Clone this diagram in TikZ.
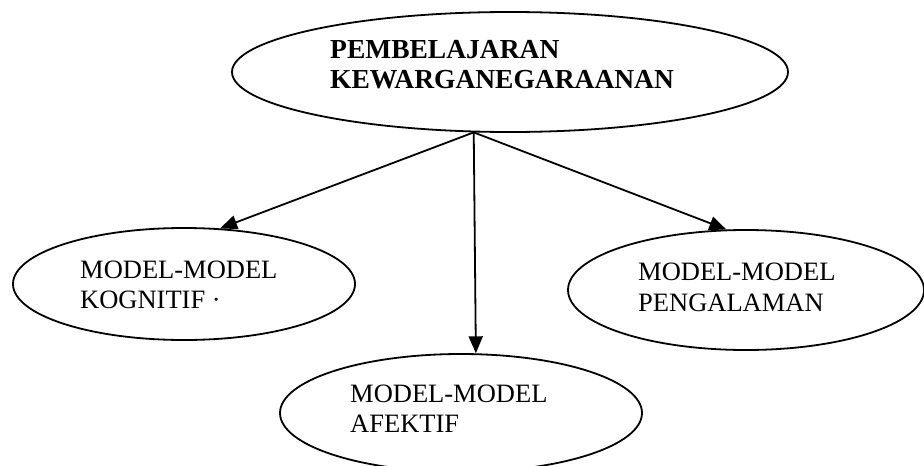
\documentclass[tikz,border=0pt]{standalone}
\usepackage{fontspec}
\setmainfont{Liberation Serif}
\usetikzlibrary{shapes.geometric,arrows.meta}
\begin{document}
\begin{tikzpicture}[x=1pt,y=-1pt,
  oval/.style={draw=black,line width=1.8pt,ellipse,inner sep=0pt},
  lbl/.style={anchor=base west,align=left,inner sep=0pt,font=\fontsize{26.5}{30.5}\selectfont},
  toplbl/.style={anchor=base west,align=left,inner sep=0pt,font=\fontsize{27.5}{30}\selectfont\bfseries},
  arr/.style={line width=1.8pt,-{Triangle[length=17pt,width=14pt]}}]
\useasboundingbox (0,0) rectangle (924,466);
\node[oval,minimum width=556pt,minimum height=120pt] (top) at (510,72) {};
\node[oval,minimum width=342pt,minimum height=112pt] (kog) at (184,284) {};
\node[oval,minimum width=356pt,minimum height=120pt] (pen) at (746,290) {};
\node[oval,minimum width=362pt,minimum height=118pt] (afe) at (461,413) {};
\node[toplbl] (ttop) at (330,88) {PEMBELAJARAN\\KEWARGANEGARAANAN};
\node[lbl] (tkog) at (80,308.5) {MODEL-MODEL\\KOGNITIF ·};
\node[lbl] (tpen) at (638,311) {MODEL-MODEL\\PENGALAMAN};
\node[lbl] (tafe) at (350,432.5) {MODEL-MODEL\\AFEKTIF};
\coordinate (src) at (top.-121);
\draw[arr] (src) -- (kog.57);
\draw[arr] (src) -- (afe.76);
\draw[arr] (src) -- (pen.108);
\end{tikzpicture}
\end{document}
